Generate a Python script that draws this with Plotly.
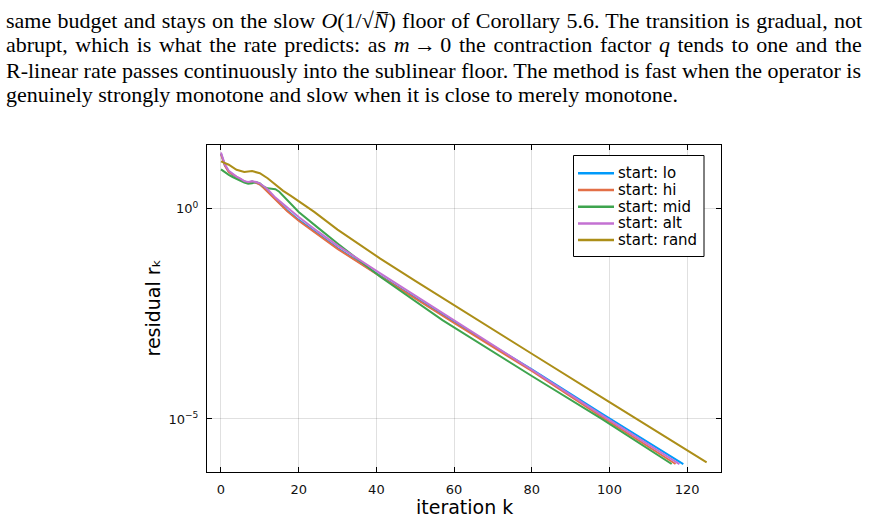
import plotly.graph_objects as go

# ---- data ----
k_lo = [0, 1, 2, 3, 4, 5, 6, 7, 8, 9, 10, 11, 12, 14, 17, 20, 25, 30, 41, 60, 80, 98, 119]
r_lo = [20.0, 10.7, 7.59, 6.31, 5.62, 5.01, 4.37, 4.17, 4.37, 4.17, 3.80, 3.16, 2.57, 1.66,
        0.912, 0.537, 0.245, 0.115, 0.0251, 2.0e-3, 1.51e-4, 1.35e-5, 8.5e-7]

k_hi = [0, 1, 2, 3, 4, 5, 6, 7, 8, 9, 10, 11, 12, 14, 17, 20, 25, 30, 41, 60, 80, 98, 117]
r_hi = [19.5, 10.5, 7.41, 6.31, 5.62, 5.01, 4.37, 4.17, 4.37, 4.07, 3.72, 3.09, 2.51, 1.58,
        0.871, 0.513, 0.234, 0.110, 0.0245, 1.91e-3, 1.38e-4, 1.12e-5, 8.5e-7]

k_mid = [0, 1, 2, 3, 4, 5, 6, 7, 8, 9, 10, 11, 12, 13, 14, 15, 16, 17, 18, 19, 20, 25, 30,
         41, 57, 80, 98, 116]
r_mid = [8.51, 7.24, 6.31, 5.62, 5.01, 4.57, 4.17, 3.89, 3.98, 4.27, 3.98, 3.31, 3.02, 2.95,
         2.88, 2.51, 2.0, 1.66, 1.32, 1.05, 0.832, 0.347, 0.148, 0.0240, 2.24e-3, 1.05e-4,
         1.0e-5, 8.5e-7]

k_alt = [0, 1, 2, 3, 4, 5, 6, 7, 8, 9, 10, 11, 12, 14, 17, 20, 25, 30, 41, 50, 60, 80, 98, 118]
r_alt = [21.4, 11.2, 7.94, 6.61, 5.75, 5.13, 4.47, 4.27, 4.47, 4.27, 3.98, 3.39, 2.88, 1.82,
         1.05, 0.631, 0.282, 0.132, 0.0288, 8.5e-3, 2.24e-3, 1.48e-4, 1.23e-5, 8.5e-7]

k_rand = [0, 2, 4, 6, 8, 10, 12, 14, 16, 18, 20, 24, 30, 41, 50, 66, 80, 100, 112, 125]
r_rand = [13.2, 11.0, 8.32, 7.41, 7.76, 6.92, 5.25, 3.63, 2.63, 2.0, 1.48, 0.832, 0.316,
          0.0646, 0.0191, 2.24e-3, 3.55e-4, 2.51e-5, 5.13e-6, 9.3e-7]

series_names = ["start: lo", "start: hi", "start: mid", "start: alt", "start: rand"]
series_k = [k_lo, k_hi, k_mid, k_alt, k_rand]
series_r = [r_lo, r_hi, r_mid, r_alt, r_rand]
colors = ["#009AFA", "#E36F47", "#3EA44E", "#C371D2", "#AC8E18"]

x_ticks = [0, 20, 40, 60, 80, 100, 120]
y_ticks = [1, 1e-5]
y_ticktext = ["10<sup>0</sup>", "10<sup>−5</sup>"]

paragraph = [
    "same budget and stays on the slow <i>O</i>(1/√<i>N̅</i>) floor of Corollary 5.6. The transition is gradual, not",
    "abrupt, which is what the rate predicts: as <i>m</i>\u2009→\u20090 the contraction factor <i>q</i> tends to one and the",
    "R-linear rate passes continuously into the sublinear floor. The method is fast when the operator is",
    "genuinely strongly monotone and slow when it is close to merely monotone.",
]
word_spacing = [0.8, 2.1, 0.0, 0.0]

# ---- layout geometry (pixels) ----
W, H = 870, 521
L, R, T, B = 207, 721, 145, 472


def px_x(p):
    return (p - L) / (R - L)


def px_y(p):
    return (B - p) / (B - T)


fig = go.Figure()
for name, ks, rs, c in zip(series_names, series_k, series_r, colors):
    fig.add_trace(go.Scatter(x=ks, y=rs, mode="lines", name=name,
                             line=dict(color=c, width=2), showlegend=False))

axis_common = dict(
    showline=True, linecolor="black", linewidth=1, mirror="allticks",
    ticks="inside", ticklen=5, tickcolor="black", tickwidth=1,
    showgrid=True, gridcolor="rgba(0,0,0,0.12)", gridwidth=1,
    zeroline=False, tickfont=dict(family="DejaVu Sans", size=13, color="#111"),
    ticklabelstandoff=5,
)

fig.update_layout(
    width=W, height=H, autosize=False,
    margin=dict(l=L, r=W - R, t=T, b=H - B),
    paper_bgcolor="white", plot_bgcolor="white",
    xaxis=dict(range=[-3.6, 128.7], tickvals=x_ticks, **axis_common),
    yaxis=dict(type="log", range=[-6.26, 1.51], tickvals=y_ticks, ticktext=y_ticktext,
               **axis_common),
    showlegend=False,
)

shapes = []
annotations = []

# ---- legend (drawn as a boxed key, Plots.jl style) ----
leg_left, leg_right, leg_top, leg_bot = 573.5, 704, 155.5, 256.5
shapes.append(dict(type="rect", xref="paper", yref="paper",
                   x0=px_x(leg_left), x1=px_x(leg_right), y0=px_y(leg_bot), y1=px_y(leg_top),
                   line=dict(color="black", width=1), fillcolor="white", layer="above"))
first_y, step = 173.3, 16.7
for i, (name, c) in enumerate(zip(series_names, colors)):
    yy = px_y(first_y + i * step)
    shapes.append(dict(type="line", xref="paper", yref="paper",
                       x0=px_x(578), x1=px_x(614), y0=yy, y1=yy,
                       line=dict(color=c, width=2.5), layer="above"))
    annotations.append(dict(text=name, xref="paper", yref="paper", x=px_x(616), y=yy,
                            xanchor="left", yanchor="middle", showarrow=False,
                            font=dict(family="DejaVu Sans", size=15, color="black")))

# ---- paragraph above the figure ----
line_y = [20, 45, 70, 95]
for txt, py, ws in zip(paragraph, line_y, word_spacing):
    annotations.append(dict(
        text=f"<span style='word-spacing:{ws}px'>{txt}</span>", xref="paper", yref="paper",
        x=px_x(4), y=px_y(py),
        xanchor="left", yanchor="middle", showarrow=False,
        font=dict(family="Liberation Serif", size=22, color="black"),
    ))

annotations.append(dict(
    text="iteration k", xref="paper", yref="paper", x=0.5, y=px_y(507),
    xanchor="center", yanchor="middle", showarrow=False,
    font=dict(family="DejaVu Sans", size=19, color="black"),
))
annotations.append(dict(
    text="residual rₖ", xref="paper", yref="paper", x=px_x(152), y=0.5,
    xanchor="center", yanchor="middle", showarrow=False, textangle=-90,
    font=dict(family="DejaVu Sans", size=19, color="black"),
))
fig.update_layout(annotations=annotations, shapes=shapes)

fig.write_html("out.html")
